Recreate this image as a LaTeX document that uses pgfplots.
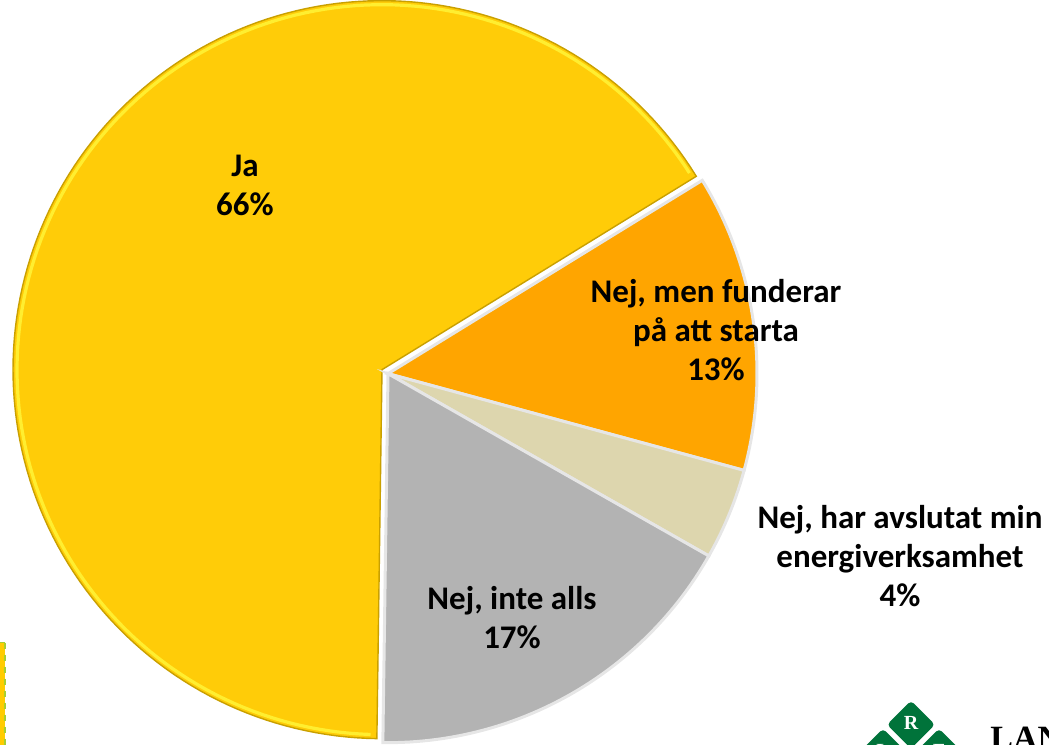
\documentclass[border=0pt]{standalone}
\usepackage{pgfplots}
\usepackage{pgfplotstable}
\pgfplotsset{compat=1.18}
\usepackage{fontspec}
\setmainfont{Carlito}
\newfontfamily\logofont{Liberation Serif}
\definecolor{cJa}{HTML}{FFCC08}
\definecolor{cJaEdge}{HTML}{C9A000}
\definecolor{cJaRim}{HTML}{FFEE30}
\definecolor{cFun}{HTML}{FFA500}
\definecolor{cAvs}{HTML}{DDD6AE}
\definecolor{cInte}{HTML}{B3B3B3}
\definecolor{cSep}{HTML}{E6E6E6}
\definecolor{lrf}{HTML}{00733A}
\definecolor{cBox}{HTML}{FFCC00}
\definecolor{cBoxEdge}{HTML}{A8D030}

\pgfplotstableread{
label value
Ja 66
Funderar 13
Avslutat 4
Inte 17
}\piedata

\begin{document}%
\begin{tikzpicture}
\pgfplotstablegetelem{0}{value}\of\piedata \let\vA\pgfplotsretval
\pgfplotstablegetelem{1}{value}\of\piedata \let\vB\pgfplotsretval
\pgfplotstablegetelem{2}{value}\of\piedata \let\vC\pgfplotsretval
\pgfplotstablegetelem{3}{value}\of\piedata \let\vD\pgfplotsretval
\pgfmathsetmacro\aS{31.6}
\pgfmathsetmacro\aJ{\aS+3.6*\vA}
\pgfmathsetmacro\aF{\aS-3.6*\vB}
\pgfmathsetmacro\aV{\aF-3.6*\vC}
\pgfmathsetmacro\aI{\aV-3.6*\vD}
\begin{axis}[width=524.5pt, height=374.5pt,
  scale only axis, xmin=0, xmax=1049, ymin=0, ymax=749, hide axis,
  clip=true, clip mode=global, clip bounding box=upper bound]
% Ja
\addplot[fill=cJa, draw=cJaEdge, line width=0.7pt, domain=\aS:\aJ, samples=150]
  ({382+369*cos(x)}, {375+369*sin(x)}) -- (axis cs:382,375) -- cycle;
\addplot[draw=cJaRim, line width=1.6pt, domain=\aS+1:\aJ-1, samples=150]
  ({382+365*cos(x)}, {375+365*sin(x)});
% Funderar
\addplot[fill=cFun, draw=cSep, line width=1.5pt, domain=\aF:\aS, samples=60]
  ({388+369*cos(x)}, {371+369*sin(x)}) -- (axis cs:388,371) -- cycle;
% Avslutat
\addplot[fill=cAvs, draw=cSep, line width=1.5pt, domain=\aV:\aF, samples=30]
  ({388+369*cos(x)}, {371+369*sin(x)}) -- (axis cs:388,371) -- cycle;
% Inte
\addplot[fill=cInte, draw=cSep, line width=1.5pt, domain=\aI:\aV, samples=60]
  ({388+369*cos(x)}, {371+369*sin(x)}) -- (axis cs:388,371) -- cycle;

\begin{scope}[every node/.style={font=\fontsize{16.5}{19.5}\selectfont\bfseries, align=center, text=black}]
\node at (axis cs:245,749-190) {Ja\\66\%};
\node at (axis cs:716,749-334) {Nej, men funderar\\på att starta\\13\%};
\node at (axis cs:900,749-560) {Nej, har avslutat min\\energiverksamhet\\4\%};
\node at (axis cs:512,749-622) {Nej, inte alls\\17\%};
\end{scope}

% left edge box
\fill[cBox] (axis cs:-10,749-647) rectangle (axis cs:5,-10);
\draw[cBoxEdge, dashed, line width=0.6pt] (axis cs:5,749-647) -- (axis cs:5,-10);
\draw[cBoxEdge, line width=0.6pt] (axis cs:-10,749-647) -- (axis cs:5,749-647);

% logo
\begin{scope}[every node/.style={fill=lrf, rounded corners=2pt, minimum size=17pt, rotate=45, inner sep=0pt}]
\node at (axis cs:911,749-729) {};
\node at (axis cs:883,749-757) {};
\node at (axis cs:939,749-757) {};
\end{scope}
\node[text=white, font=\logofont\bfseries\fontsize{10}{12}\selectfont] at (axis cs:911,749-727) {R};
\node[text=white, font=\logofont\bfseries\fontsize{10}{12}\selectfont] at (axis cs:883,749-755) {L};
\node[text=white, font=\logofont\bfseries\fontsize{10}{12}\selectfont] at (axis cs:939,749-755) {F};
\node[anchor=base west, inner sep=0pt, font=\logofont\bfseries\fontsize{17}{20}\selectfont] at (axis cs:990,749-754) {LANTBRUKARNAS};
\end{axis}
\end{tikzpicture}%
\end{document}
